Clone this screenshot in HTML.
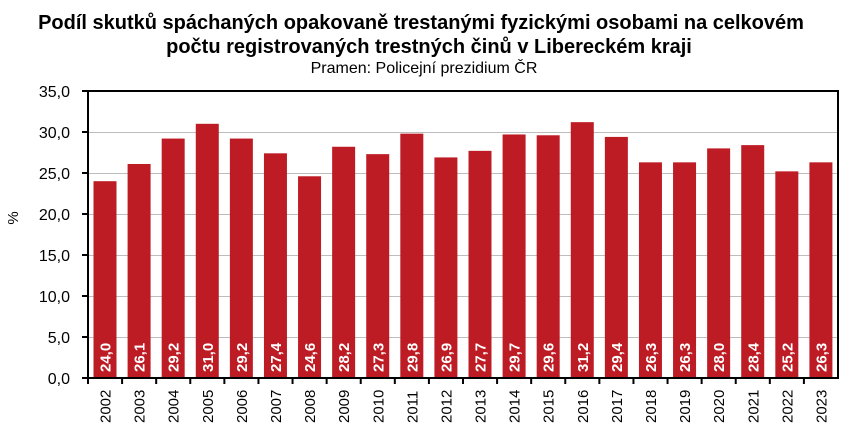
<!DOCTYPE html>
<html><head><meta charset="utf-8"><style>
body{margin:0;background:#fff;}
svg text{font-family:"Liberation Sans",sans-serif;}
</style></head><body>
<svg width="855" height="441" xmlns="http://www.w3.org/2000/svg">
<rect width="855" height="441" fill="#fff"/>
<text x="421" y="29" text-anchor="middle" font-size="20" font-weight="bold">Podíl skutků spáchaných opakovaně trestanými fyzickými osobami na celkovém</text>
<text x="429" y="53" text-anchor="middle" font-size="20" font-weight="bold">počtu registrovaných trestných činů v Libereckém kraji</text>
<text x="424" y="73" text-anchor="middle" font-size="16">Pramen: Policejní prezidium ČR</text>
<g stroke="#bdbdbd" stroke-width="1">
<line x1="88" x2="838" y1="132.5" y2="132.5"/><line x1="88" x2="838" y1="173.5" y2="173.5"/>
<line x1="88" x2="838" y1="214.5" y2="214.5"/><line x1="88" x2="838" y1="255.5" y2="255.5"/>
<line x1="88" x2="838" y1="296.5" y2="296.5"/><line x1="88" x2="838" y1="337.5" y2="337.5"/>
</g>
<g font-size="16" text-anchor="end">
<text x="70" y="97">35,0</text><text x="70" y="138">30,0</text><text x="70" y="179">25,0</text>
<text x="70" y="220">20,0</text><text x="70" y="261">15,0</text><text x="70" y="302">10,0</text>
<text x="70" y="343">5,0</text><text x="70" y="384">0,0</text>
</g>
<text transform="translate(18,218) rotate(-90)" font-size="15" text-anchor="middle">%</text>
<g id="bars"></g>
<rect x="88" y="91" width="750" height="287" fill="none" stroke="#000" stroke-width="2"/>
<g stroke="#000" stroke-width="2">
<line x1="82" x2="88" y1="91" y2="91"/><line x1="82" x2="88" y1="132" y2="132"/><line x1="82" x2="88" y1="173" y2="173"/>
<line x1="82" x2="88" y1="214" y2="214"/><line x1="82" x2="88" y1="255" y2="255"/><line x1="82" x2="88" y1="296" y2="296"/>
<line x1="82" x2="88" y1="337" y2="337"/><line x1="82" x2="88" y1="378" y2="378"/>
</g>
<g id="xt"></g>
<script>
var v=[24.0,26.1,29.2,31.0,29.2,27.4,24.6,28.2,27.3,29.8,26.9,27.7,29.7,29.6,31.2,29.4,26.3,26.3,28.0,28.4,25.2,26.3];
var ns="http://www.w3.org/2000/svg",b=document.getElementById("bars"),t=document.getElementById("xt");
var s=750/22;
v.forEach(function(d,i){
 var x0=88+i*s, h=d*287/35;
 var r=document.createElementNS(ns,"rect");
 r.setAttribute("x",x0+5.5);r.setAttribute("y",378-h);r.setAttribute("width",23);r.setAttribute("height",h);r.setAttribute("fill","#be1c24");b.appendChild(r);
 var tx=document.createElementNS(ns,"text");var cx=x0+s/2+5.5;
 tx.setAttribute("transform","translate("+(cx)+",372) rotate(-90)");tx.setAttribute("fill","#fff");tx.setAttribute("font-size","15");tx.setAttribute("font-weight","bold");
 tx.textContent=d.toFixed(1).replace(".",",");b.appendChild(tx);
 var l=document.createElementNS(ns,"line");l.setAttribute("x1",x0);l.setAttribute("x2",x0);l.setAttribute("y1",378);l.setAttribute("y2",384);l.setAttribute("stroke","#000");l.setAttribute("stroke-width","2");t.appendChild(l);
 var y=document.createElementNS(ns,"text");
 y.setAttribute("transform","translate("+(cx)+",423) rotate(-90)");y.setAttribute("font-size","15");
 y.textContent=2002+i;t.appendChild(y);
});
</script>
</svg>
</body></html>
